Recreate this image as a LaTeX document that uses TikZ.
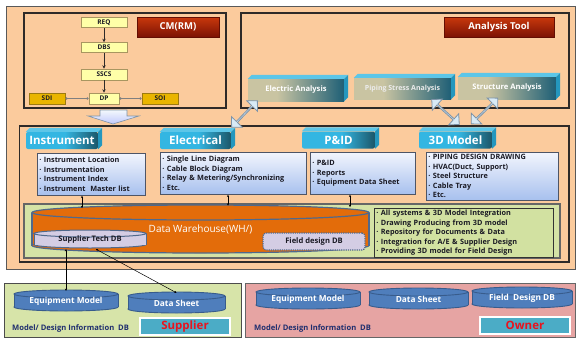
\documentclass[tikz,border=0pt]{standalone}
\usepackage{fontspec}
\setmainfont{Open Sans}
\usetikzlibrary{shapes.arrows,arrows.meta}

\definecolor{peach}{HTML}{FBCB9D}
\definecolor{frame}{HTML}{2E2A28}
\definecolor{redA}{HTML}{C8380C}
\definecolor{redB}{HTML}{7C1204}
\definecolor{flowfill}{HTML}{FFFFA8}
\definecolor{flowedge}{HTML}{A89660}
\definecolor{goldfill}{HTML}{E9B500}
\definecolor{goldedge}{HTML}{9C7A10}
\definecolor{beige}{HTML}{C9C4A2}
\definecolor{tealdark}{HTML}{1E5F76}
\definecolor{topcyan}{HTML}{5CC6E8}
\definecolor{sidecyan}{HTML}{2497BE}
\definecolor{tabcyan}{HTML}{33B6E2}
\definecolor{tabdark}{HTML}{1B5669}
\definecolor{listtop}{HTML}{F2F5FD}
\definecolor{listbot}{HTML}{A7C0EE}
\definecolor{listedge}{HTML}{4E5566}
\definecolor{dwgreen}{HTML}{D5E3A6}
\definecolor{wlgreen}{HTML}{D2E1A1}
\definecolor{dworange}{HTML}{E36C0A}
\definecolor{dwedge}{HTML}{50698C}
\definecolor{lavender}{HTML}{D4CDE4}
\definecolor{dbblue}{HTML}{4F7EBC}
\definecolor{dbedge}{HTML}{385C8C}
\definecolor{supgreen}{HTML}{D7E4A9}
\definecolor{ownpink}{HTML}{E6A4A3}
\definecolor{labcyan}{HTML}{4BACC6}
\definecolor{labred}{HTML}{E8141E}
\definecolor{navy}{HTML}{1F2E6E}
\definecolor{arrowfill}{HTML}{D8EAF6}
\definecolor{arrowedge}{HTML}{7D93A8}
\definecolor{txt}{HTML}{1A1A24}

% horizontal shadings for the 3D slabs (25bp..75bp spans the filled box)
\pgfdeclarehorizontalshading{tabshade}{100bp}{color(0bp)=(tabcyan); color(25bp)=(tabcyan); color(52bp)=(tabcyan); color(75bp)=(tabdark); color(100bp)=(tabdark)}
\pgfdeclarehorizontalshading{anashade}{100bp}{color(0bp)=(beige); color(25bp)=(beige); color(40bp)=(beige); color(75bp)=(tealdark); color(100bp)=(tealdark)}

\tikzset{
  boxline/.style={draw=frame, line width=1.1pt},
  redlabel/.style={top color=redA, bottom color=redB, draw=redB!80!black, line width=0.4pt,
    text=white, font=\fontsize{9.5}{11}\selectfont\bfseries, inner sep=0pt},
  flowbox/.style={draw=flowedge, fill=flowfill, line width=0.6pt, text=txt,
    font=\fontsize{6.5}{7}\selectfont\bfseries, inner sep=0pt, minimum height=10pt},
  goldbox/.style={flowbox, draw=goldedge, fill=goldfill},
  flowarr/.style={draw=frame, line width=1pt, -{Stealth[length=3.5pt,width=3.5pt]}},
  sidearr/.style={draw=gray, line width=0.5pt, {To[length=2pt,width=3pt]}-{To[length=2pt,width=3pt]}},
  anaface/.style={shading=anashade, text=white, font=\fontsize{7.6}{9}\selectfont\bfseries, inner sep=0pt},
  facetop/.style={fill=topcyan},
  faceside/.style={fill=sidecyan},
  tabface/.style={shading=tabshade, rounded corners=2pt, text=white,
    font=\fontsize{11.5}{13}\selectfont\bfseries, inner sep=0pt},
  listbase/.style={anchor=north west, inner sep=2pt, align=left, text=txt, text width=#1,
    font=\fontsize{7.3}{9.5}\selectfont\bfseries},
  listbox/.style={listbase=#1, top color=listtop, bottom color=listbot, draw=listedge, line width=0.8pt},
  sarr/.style={draw=black, line width=0.5pt, {Stealth[length=2.2pt,width=2.2pt]}-{Stealth[length=2.2pt,width=2.2pt]}},
  bigdarr/.style={double arrow, draw=arrowedge, fill=arrowfill, line width=0.8pt,
    minimum height=37pt, minimum width=15pt, double arrow head extend=3.5pt, inner sep=0pt},
  dbtext/.style={text=white, font=\fontsize{8.3}{9}\selectfont\bfseries, inner sep=0pt},
  lavtext/.style={text=txt, font=\fontsize{7.6}{9}\selectfont\bfseries, inner sep=0pt},
  ownlabel/.style={fill=labcyan, draw=white, line width=1.5pt, text=labred,
    font=\fontsize{11.5}{13}\selectfont\bfseries, minimum width=90pt, minimum height=17pt, inner sep=0pt},
  mdlabel/.style={anchor=west, text=navy, font=\fontsize{7.6}{8}\selectfont\bfseries, inner sep=0pt},
  drumblue/.style={fill=dbblue, draw=dbedge, line width=0.9pt},
  drumlav/.style={fill=lavender, draw=dwedge, line width=1pt},
  drumorange/.style={fill=dworange, draw=dwedge, line width=1.2pt},
}

% drum (database) outline: x1, y1, x2, y2, ellipse half-height, style
\newcommand\dbdrum[6]{%
  \path[#6] ({(#1+#3)/2},{#4-#5}) ellipse [x radius={(#3-#1)/2}, y radius=#5];
  \fill[#6, draw=none] (#1,{#2+#5}) rectangle (#3,{#4-#5});
  \draw[#6, fill=none] (#1,{#2+#5}) -- (#1,{#4-#5}) (#3,{#2+#5}) -- (#3,{#4-#5});
  \path[#6] ({(#1+#3)/2},{#2+#5}) ellipse [x radius={(#3-#1)/2}, y radius=#5];
}

% slab with top and right faces: name, centre, width, height, depth, face style, text
\newcommand\slab[7]{%
  \node[#6, minimum width=#3pt, minimum height=#4pt] (#1) at (#2) {#7};
  \fill[facetop] (#1.north west) -- ([shift={(#5,-#5)}]#1.north west)
    -- ([shift={(#5,-#5)}]#1.north east) -- (#1.north east) -- cycle;
  \fill[faceside] (#1.north east) -- ([shift={(#5,-#5)}]#1.north east)
    -- ([shift={(#5,-#5)}]#1.south east) -- (#1.south east) -- cycle;
}

\begin{document}
\begin{tikzpicture}[x=1pt,y=-1pt]
\useasboundingbox (0,0) rectangle (576,338);
\fill[white] (0,0) rectangle (576,338);

% ---- upper panel ----
\draw[draw=gray!70!black, fill=peach, line width=0.8pt] (6,6) rectangle (575,269);
\draw[boxline] (24,13) rectangle (226,108);
\draw[boxline] (241,13) rectangle (569,108);
\draw[boxline] (19.5,126) rectangle (569,262);

\node[redlabel, minimum width=82pt, minimum height=20pt] (cmlbl) at (178,27) {CM(RM)};
\node[redlabel, minimum width=110pt, minimum height=20pt] (atlbl) at (499,27) {Analysis Tool};

% requirement flow
\node[flowbox, minimum width=46pt] (req)  at (104,22.5) {REQ};
\node[flowbox, minimum width=46pt] (dbs)  at (104,47.5) {DBS};
\node[flowbox, minimum width=46pt, minimum height=11pt] (sscs) at (104,74.5) {SSCS};
\node[flowbox, minimum width=30pt, minimum height=11pt] (dp)   at (104,98.5) {DP};
\node[goldbox, minimum width=36pt, minimum height=11pt] (sdi)  at (47,98.5) {SDI};
\node[goldbox, minimum width=36pt, minimum height=11pt] (soi)  at (160,98.5) {SOI};
\draw[flowarr] (req) -- (dbs);
\draw[flowarr] (dbs) -- (sscs);
\draw[flowarr] (sscs) -- (dp);
\draw[sidearr] (sdi) -- (dp);
\draw[sidearr] (dp) -- (soi);

% hand-over arrow
\draw[top color=white!70!arrowfill, bottom color=arrowfill!70!blue!60!white, draw=arrowedge, line width=0.6pt]
  (100,110) -- (127,110) -- (127,116) -- (139,116) -- (113,124) -- (88,116) -- (100,116) -- cycle;

% analysis tools
\slab{ela}{296,90}{96}{22}{4}{anaface}{Electric Analysis}
\slab{psa}{402.5,88.5}{97}{21}{4}{anaface, text=white!85!gray, font=\fontsize{7}{9}\selectfont\bfseries}{Piping Stress Analysis}
\slab{sta}{507,88}{98}{22}{4}{anaface}{Structure Analysis}

% discipline tabs
\slab{tins}{62,140.5}{72}{17}{4}{tabface}{Instrument}
\slab{tele}{195.5,140.5}{71}{17}{4}{tabface}{Electrical}
\slab{tpid}{338.5,140}{73}{17}{4}{tabface}{P\&ID}
\slab{t3d}{455.5,140}{73}{17}{4}{tabface}{3D Model}

\node[bigdarr, rotate=46]  (a1) at (244.5,114) {};
\node[bigdarr, rotate=-42] (a2) at (445.5,112) {};
\node[bigdarr, rotate=44]  (a3) at (484.5,111) {};

% deliverable lists
\node[listbox=103.5pt, minimum height=42pt] (il) at (37,153)
  {· Instrument Location\\· Instrumentation\\· Instrument Index\\· Instrument~~Master list};
\node[listbox=142pt, minimum height=42pt] (el) at (160,152)
  {· Single Line Diagram\\· Cable Block Diagram\\· Relay \& Metering/Synchronizing\\· Etc.};
\node[listbox=101pt, minimum height=42pt] (pl) at (310,152)
  {· P\&ID\\· Reports\\· Equipment Data Sheet};
\node[listbox=128pt, minimum height=48pt] (ml) at (426,152)
  {· PIPING DESIGN DRAWING\\· HVAC(Duct, Support)\\· Steel Structure\\· Cable Tray\\· Etc.};

% data warehouse
\draw[fill=dwgreen, draw=gray!80!black, line width=1.2pt] (24,204) rectangle (560,258);
\dbdrum{32}{205}{369}{253}{7.5}{drumorange}
\node[text=white, font=\fontsize{10}{12}\selectfont, minimum width=337pt, minimum height=48pt, inner sep=0pt]
  (dw) at (200.5,229) {Data Warehouse(WH/)};
\dbdrum{34}{230}{146}{248}{3.5}{drumlav}
\node[lavtext, minimum width=112pt, minimum height=18pt] (stdb) at (90,240) {Supplier Tech DB};
\node[lavtext, draw=dwedge, densely dotted, line width=1.2pt, fill=lavender, rounded corners=3pt,
  minimum width=102pt, minimum height=17pt] (fdb) at (314,241.5) {Field design DB};
\node[listbase=175pt, fill=wlgreen, draw=black!80, line width=0.8pt, minimum height=48pt] (wl) at (374,208)
  {· All systems \& 3D Model Integration\\· Drawing Producing from 3D model\\· Repository for Documents \& Data\\· Integration for A/E \& Supplier Design\\· Providing 3D model for Field Design};

\coordinate (dwi) at (82,208);
\coordinate (dwe) at (228,205.5);
\coordinate (dwp) at (350,207);
\draw[sarr] (il.south -| dwi) -- (dwi);
\draw[sarr] (el.south -| dwe) -- (dwe);
\draw[sarr] (pl.south -| dwp) -- (dwp);

% ---- supplier side ----
\draw[fill=supgreen, draw=black!70, line width=0.9pt] (4,283) rectangle (241,337);
\dbdrum{14}{290}{118}{311}{4}{drumblue}
\node[dbtext, minimum width=104pt, minimum height=21pt] (seq) at (66,301.5) {Equipment Model};
\dbdrum{128}{292}{225}{313}{4}{drumblue}
\node[dbtext, minimum width=97pt, minimum height=21pt] (sds) at (176.5,303.5) {Data Sheet};
\node[mdlabel] (smd) at (12,328) {Model/ Design Information~~DB};
\node[ownlabel] (sup) at (185,326.5) {Supplier};

\draw[sarr] (seq.north |- stdb.south) -- (seq.north);
\draw[sarr] ([xshift=6pt]stdb.south) -- (sds.north);

% ---- owner side ----
\draw[fill=ownpink, draw=black!60, line width=0.9pt] (245,283) rectangle (575,337);
\dbdrum{256}{288}{360}{309}{4}{drumblue}
\node[dbtext, minimum width=104pt, minimum height=21pt] (oeq) at (308,299.5) {Equipment Model};
\dbdrum{369}{288}{468}{309}{4}{drumblue}
\node[dbtext, minimum width=99pt, minimum height=21pt] (ods) at (418.5,299.5) {Data Sheet};
\dbdrum{472}{287}{572}{308}{4}{drumblue}
\node[dbtext, minimum width=100pt, minimum height=21pt] (ofd) at (522,298.5) {Field~~Design DB};
\node[mdlabel] (omd) at (254,328) {Model/ Design Information~~DB};
\node[ownlabel] (own) at (525,325.5) {Owner};
\end{tikzpicture}
\end{document}
